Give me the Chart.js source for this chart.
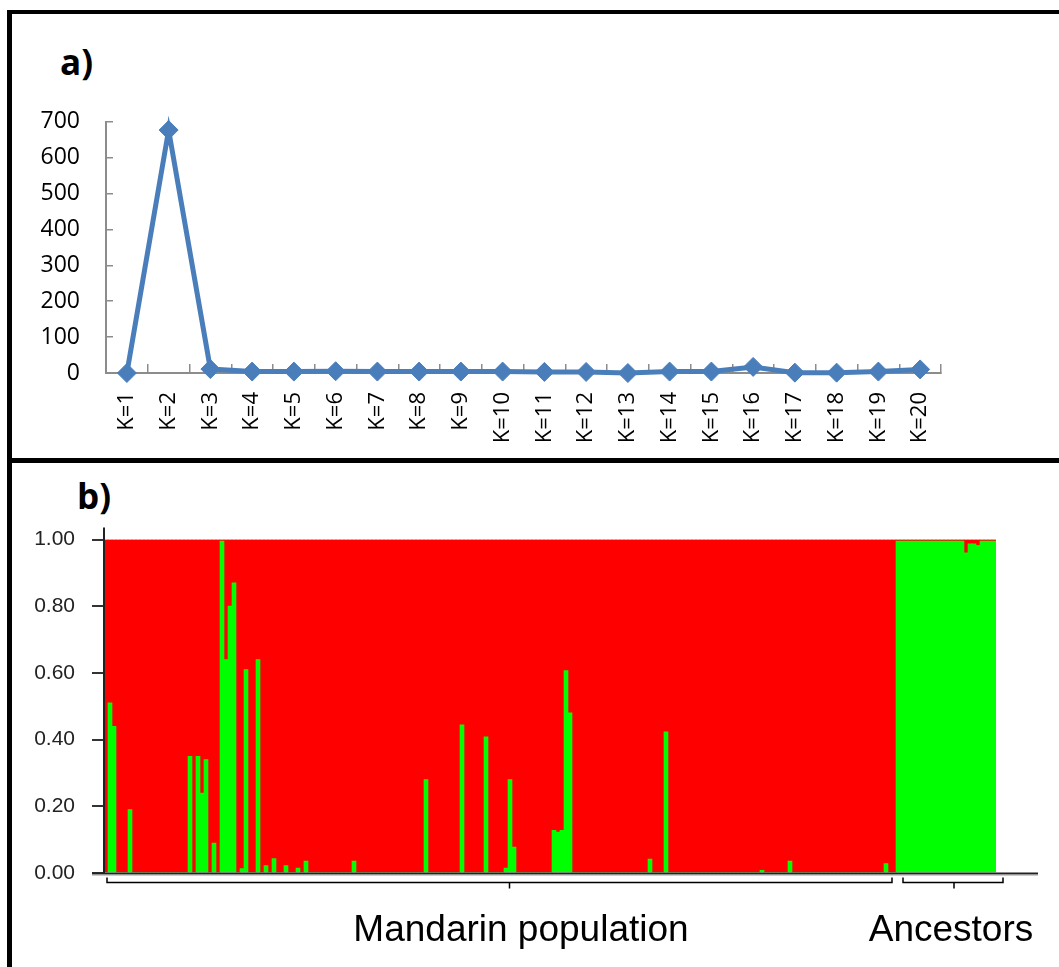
<!DOCTYPE html>
<html>
<head>
<meta charset="utf-8">
<script src="https://cdn.jsdelivr.net/npm/chart.js@4.4.1/dist/chart.umd.min.js"></script>
<style>
html,body{margin:0;padding:0;background:#fff;}
body{width:1059px;height:967px;position:relative;overflow:hidden;}
.frame{position:absolute;background:#000;}
.cw{position:absolute;left:0;width:1059px;}
#wa{top:75px;height:385px;}
#wb{top:470px;height:497px;}
.plab{position:absolute;font-family:"Open Sans",sans-serif;font-weight:bold;font-size:35px;line-height:35px;color:#000;}
.glab{position:absolute;font-family:"Liberation Sans",Arial,sans-serif;font-size:37px;line-height:37px;color:#000;text-align:center;white-space:nowrap;}
</style>
</head>
<body>
<div class="frame" style="left:7px;top:10px;width:1052px;height:4px;"></div>
<div class="frame" style="left:7px;top:10px;width:5px;height:957px;"></div>
<div class="frame" style="left:7px;top:458px;width:1052px;height:5px;"></div>
<div class="plab" style="left:60px;top:44px;">a)</div>
<div class="plab" style="left:77px;top:478px;">b)</div>
<div class="cw" id="wa"><canvas id="ca"></canvas></div>
<div class="cw" id="wb"><canvas id="cb"></canvas></div>
<div class="glab" style="left:271px;width:500px;top:910px;">Mandarin population</div>
<div class="glab" style="left:801px;width:300px;top:910px;">Ancestors</div>
<script>
// ---------- Panel a: delta K by K ----------
const kLabels = ["K=1","K=2","K=3","K=4","K=5","K=6","K=7","K=8","K=9","K=10",
                 "K=11","K=12","K=13","K=14","K=15","K=16","K=17","K=18","K=19","K=20"];
const deltaK = [0, 677, 11, 4, 4, 5, 4, 4, 4, 4, 3, 3, 0, 4, 4, 17, 1, 1, 4, 10];
const yTicksA = [0, 100, 200, 300, 400, 500, 600, 700];

// ---------- Panel b: membership (green cluster) per individual ----------
const mandarinGreen = [
  0, .51, .44, 0, 0, 0, .19, 0, 0, 0, 0, 0, 0, 0, 0, 0, 0, 0, 0, 0,
  0, .35, 0, .35, .24, .34, 0, .09, 0, .995, .64, .80, .87, 0, .013, .61, 0, 0, .64, 0,
  .022, 0, .043, 0, 0, .022, 0, 0, .015, 0, .036, 0, 0, 0, 0, 0, 0, 0, 0, 0,
  0, 0, .036, 0, 0, 0, 0, 0, 0, 0, 0, 0, 0, 0, 0, 0, 0, 0, 0, 0,
  .28, 0, 0, 0, 0, 0, 0, 0, 0, .444, 0, 0, 0, 0, 0, .408, 0, 0, 0, 0,
  .015, .28, .078, 0, 0, 0, 0, 0, 0, 0, 0, 0, .128, .123, .128, .607, .48, 0, 0, 0,
  0, 0, 0, 0, 0, 0, 0, 0, 0, 0, 0, 0, 0, 0, 0, 0, .042, 0, 0, 0,
  .423, 0, 0, 0, 0, 0, 0, 0, 0, 0, 0, 0, 0, 0, 0, 0, 0, 0, 0, 0,
  0, 0, 0, 0, .008, 0, 0, 0, 0, 0, 0, .036, 0, 0, 0, 0, 0, 0, 0, 0,
  0, 0, 0, 0, 0, 0, 0, 0, 0, 0, 0, 0, 0, 0, 0, .028, 0, 0
];
const ancestorGreen = [
  .995, .995, .995, .995, .995, .995, .995, .995, .995, .995,
  .995, .995, .995, .995, .995, .995, .995, .96, .987, .987,
  .982, .995, .995, .995, .995
];
const groupNames = ["Mandarin population", "Ancestors"];
const yTicksB = [0, 0.2, 0.4, 0.6, 0.8, 1.0];

const greenAll = mandarinGreen.concat(ancestorGreen);
const redAll = greenAll.map(g => +(1 - g).toFixed(3));
const indLabels = greenAll.map((_, i) => String(i + 1));

// ---------- Chart a ----------
const gridGray = '#8c8c8c';
new Chart(document.getElementById('ca'), {
  type: 'line',
  data: {
    labels: kLabels,
    datasets: [{
      data: deltaK,
      borderColor: '#4A7EBB',
      backgroundColor: '#4A7EBB',
      borderWidth: 5,
      tension: 0,
      pointStyle: 'rectRot',
      pointRadius: 9.5,
      pointBackgroundColor: '#4A7EBB',
      pointBorderColor: '#4A7EBB',
      pointBorderWidth: 1,
      clip: false
    }]
  },
  options: {
    responsive: true,
    maintainAspectRatio: false,
    animation: false,
    events: [],
    layout: { padding: { left: 0, top: 0, right: 118, bottom: 0 } },
    plugins: { legend: { display: false }, tooltip: { enabled: false } },
    scales: {
      x: {
        type: 'category',
        offset: true,
        grid: { offset: true, drawOnChartArea: false, drawTicks: true, tickLength: -9, color: gridGray, lineWidth: 1.5 },
        border: { display: true, color: gridGray, width: 2 },
        ticks: { minRotation: 90, maxRotation: 90, autoSkip: false, padding: 28,
                 color: '#000', font: { family: '"Open Sans", sans-serif', size: 22 } },
        afterFit: s => { s.height = 87; }
      },
      y: {
        min: 0, max: 700,
        afterBuildTicks: s => { s.ticks = yTicksA.map(v => ({ value: v })); },
        grid: { drawOnChartArea: false, drawTicks: true, tickLength: -7, color: gridGray, lineWidth: 1.5 },
        border: { display: true, color: gridGray, width: 2 },
        ticks: { padding: 33, color: '#000', font: { family: '"Open Sans", sans-serif', size: 23 } },
        afterFit: s => { s.width = 106; }
      }
    }
  }
});

// ---------- Chart b ----------
const bracketPlugin = {
  id: 'structureDecor',
  afterDraw(chart) {
    const ctx = chart.ctx, a = chart.chartArea, xs = chart.scales.x, ys = chart.scales.y;
    const y0 = ys.getPixelForValue(0);
    ctx.save();
    // axis lines
    ctx.strokeStyle = '#222';
    ctx.lineWidth = 2;
    ctx.beginPath();
    ctx.moveTo(a.left, a.top - 12);
    ctx.lineTo(a.left, y0);
    ctx.stroke();
    ctx.beginPath();
    ctx.moveTo(a.left - 12, y0 + 0.5);
    ctx.lineTo(a.right + 42, y0 + 0.5);
    ctx.stroke();
    ctx.strokeStyle = '#999';
    ctx.lineWidth = 1;
    ctx.beginPath();
    ctx.moveTo(a.left - 12, y0 + 2);
    ctx.lineTo(a.right + 42, y0 + 2);
    ctx.stroke();
    // group brackets
    const counts = [mandarinGreen.length, ancestorGreen.length];
    const midShift = [10, 1];
    let start = 0;
    const by = y0 + 9.5;
    ctx.strokeStyle = '#000';
    ctx.lineWidth = 1.5;
    counts.forEach((n, gi) => {
      const half = (xs.getPixelForValue(1) - xs.getPixelForValue(0)) / 2;
      let x1 = xs.getPixelForValue(start) - half + 3;
      let x2 = xs.getPixelForValue(start + n - 1) + half - 4;
      if (gi === counts.length - 1) { x1 += 4; x2 += 11; }
      const xm = (x1 + x2) / 2 + midShift[gi];
      ctx.beginPath();
      ctx.moveTo(x1, by - 5);
      ctx.lineTo(x1, by);
      ctx.lineTo(x2, by);
      ctx.lineTo(x2, by - 5);
      ctx.moveTo(xm, by);
      ctx.lineTo(xm, by + 6);
      ctx.stroke();
      start += n;
    });
    ctx.restore();
  }
};

new Chart(document.getElementById('cb'), {
  type: 'bar',
  data: {
    labels: indLabels,
    datasets: [
      { data: greenAll, backgroundColor: '#00FF00', borderWidth: 0, categoryPercentage: 1, barPercentage: 1 },
      { data: redAll, backgroundColor: '#FF0000', borderWidth: 0, categoryPercentage: 1, barPercentage: 1 }
    ]
  },
  options: {
    responsive: true,
    maintainAspectRatio: false,
    animation: false,
    events: [],
    layout: { padding: { left: 0, top: 69.5, right: 63, bottom: 94 } },
    plugins: { legend: { display: false }, tooltip: { enabled: false } },
    scales: {
      x: { stacked: true, display: false },
      y: {
        stacked: true, min: 0, max: 1,
        afterBuildTicks: s => { s.ticks = yTicksB.map(v => ({ value: v })); },
        grid: { drawOnChartArea: false, drawTicks: true, tickLength: 12, color: '#333', lineWidth: 2 },
        border: { display: false },
        ticks: { padding: 17, color: '#222', callback: v => Number(v).toFixed(2),
                 font: { family: '"Liberation Sans", Arial, sans-serif', size: 21 } },
        afterFit: s => { s.width = 104; }
      }
    }
  },
  plugins: [bracketPlugin]
});
</script>
</body>
</html>
